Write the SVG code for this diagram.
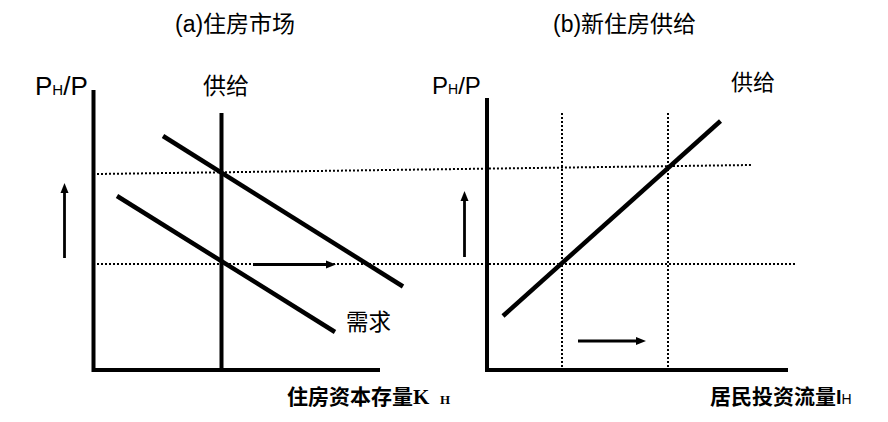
<svg xmlns="http://www.w3.org/2000/svg" width="888" height="422" viewBox="0 0 888 422">
<defs>
<style>
.ax{stroke:#000;stroke-width:4;fill:none}
.crv{stroke:#000;stroke-width:4.5;fill:none;stroke-linecap:butt}
.dot{stroke:#000;stroke-width:2;stroke-dasharray:2 2;fill:none}
.arr{stroke:#000;stroke-width:2.8;fill:none;marker-end:url(#ah)}
.t{font-family:"Liberation Sans","Noto Sans CJK SC",sans-serif;fill:#000}
.cj{font-family:"Noto Sans CJK SC",sans-serif;fill:#000}
.b{font-family:"Liberation Serif","Noto Sans CJK SC",serif;font-weight:bold;fill:#000}
</style>
<marker id="ah" markerWidth="10" markerHeight="10" viewBox="0 0 10 10" refX="2" refY="5" orient="auto" markerUnits="userSpaceOnUse">
<path d="M0,1 L10,5 L0,9 Z" fill="#000"/>
</marker>
</defs>
<rect width="888" height="422" fill="#fff"/>

<g id="titles">
<text class="t" x="175" y="32" font-size="23">(a)住房市场</text>
<text class="t" x="553" y="32" font-size="23">(b)新住房供给</text>
</g>

<g id="connectors">
<line class="dot" x1="97" y1="174" x2="751" y2="165"/>
<line class="dot" x1="97" y1="264" x2="797" y2="264"/>
<line class="dot" x1="562" y1="113" x2="562" y2="367"/>
<line class="dot" x1="668" y1="113" x2="668" y2="367"/>
<line class="ax" x1="93.5" y1="90" x2="93.5" y2="372"/>
<line class="ax" x1="92" y1="370" x2="380" y2="370"/>
<line class="ax" x1="221.5" y1="113" x2="221.5" y2="368"/>
<line class="crv" x1="163" y1="136" x2="403" y2="286.5"/>
<line class="crv" x1="117" y1="196" x2="335" y2="332"/>
<line class="arr" x1="64.5" y1="258" x2="64.5" y2="191"/>
<line class="arr" x1="253" y1="264.5" x2="328" y2="264.5"/>
<line class="ax" x1="487" y1="98" x2="487" y2="372"/>
<line class="ax" x1="485" y1="370" x2="788" y2="370"/>
<line class="crv" x1="503" y1="316" x2="720.5" y2="121"/>
<line class="arr" x1="464.5" y1="257" x2="464.5" y2="199"/>
<line class="arr" x1="578" y1="341" x2="638" y2="341"/>
</g>

<g id="left-yaxis-label">
<text class="t" x="35" y="94.5" font-size="26">P<tspan font-size="15">H</tspan>/P</text>
</g>
<g id="left-supply-label">
<text class="cj" x="203" y="94" font-size="23">供给</text>
</g>
<g id="demand-label">
<text class="cj" x="346" y="330" font-size="22.5">需求</text>
</g>
<g id="left-xaxis-label">
<text class="b" x="287" y="404" font-size="21"><tspan font-family="Noto Sans CJK SC">住房资本存量</tspan>K<tspan x="440" font-size="13">H</tspan></text>
</g>

<g id="right-yaxis-label">
<text class="t" x="432" y="94" font-size="24">P<tspan font-size="14">H</tspan>/P</text>
</g>
<g id="right-supply-label">
<text class="cj" x="731" y="90" font-size="22">供给</text>
</g>
<g id="right-xaxis-label">
<text class="b" x="710" y="404" font-size="21"><tspan font-family="Noto Sans CJK SC">居民投资流量</tspan><tspan font-family="Liberation Sans" font-size="20">I</tspan><tspan font-family="Liberation Sans" font-weight="normal" font-size="14">H</tspan></text>
</g>
</svg>
